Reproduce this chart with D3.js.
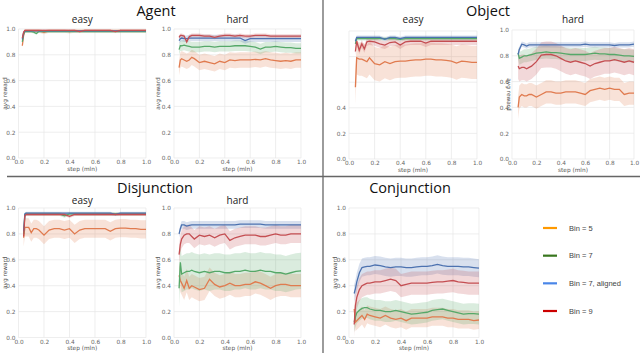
<!DOCTYPE html>
<html lang="en">
<head>
<meta charset="UTF-8">
<script src="https://cdnjs.cloudflare.com/ajax/libs/d3/7.8.5/d3.min.js"></script>
<style>
  body { margin: 0; background: #fff; }
  svg { display: block; }
</style>
</head>
<body>
<svg id="chart" width="640" height="353"></svg>
<script>
// shared x positions (step, mln) for every series
var steps = [0.03, 0.04, 0.05, 0.06, 0.08, 0.10, 0.12, 0.14, 0.16, 0.20, 0.24, 0.28, 0.32, 0.36, 0.40,
             0.44, 0.48, 0.52, 0.56, 0.60, 0.64, 0.68, 0.72, 0.76, 0.80, 0.84, 0.88, 0.92, 0.96, 1.00];

var seriesNames = ["Bin = 5", "Bin = 7", "Bin = 7, aligned", "Bin = 9"];
var lineColors = ["#e07b4f", "#55a868", "#4c72b0", "#c44e52"];
var legendColors = ["#ff9900", "#38761d", "#4a86e8", "#cc0000"];
var tickValues = [0, 0.2, 0.4, 0.6, 0.8, 1.0];

// each panel: [Bin5, Bin7, Bin7 aligned, Bin9]
var agentEasy = [
  [0.87, 0.95, 0.985, 0.985, 0.985, 0.985, 0.985, 0.985, 0.985, 0.975, 0.985, 0.985, 0.985, 0.985, 0.98, 0.985, 0.985, 0.985, 0.985, 0.985, 0.985, 0.985, 0.985, 0.985, 0.985, 0.985, 0.985, 0.985, 0.985, 0.985],
  [0.90, 0.96, 0.98, 0.98, 0.98, 0.98, 0.975, 0.965, 0.98, 0.98, 0.98, 0.98, 0.98, 0.98, 0.98, 0.98, 0.98, 0.98, 0.98, 0.98, 0.98, 0.98, 0.98, 0.98, 0.98, 0.98, 0.98, 0.98, 0.98, 0.98],
  [0.92, 0.97, 0.985, 0.985, 0.985, 0.985, 0.985, 0.985, 0.985, 0.985, 0.985, 0.985, 0.985, 0.985, 0.985, 0.985, 0.985, 0.985, 0.985, 0.985, 0.985, 0.985, 0.985, 0.985, 0.985, 0.985, 0.985, 0.985, 0.985, 0.985],
  [0.93, 0.975, 0.99, 0.99, 0.99, 0.99, 0.99, 0.99, 0.99, 0.99, 0.99, 0.99, 0.99, 0.99, 0.99, 0.99, 0.98, 0.99, 0.99, 0.99, 0.99, 0.99, 0.99, 0.98, 0.99, 0.99, 0.99, 0.99, 0.99, 0.99]
];
var agentEasySpread = [0.015, 0.01, 0.008, 0.008];

var agentHard = [
  [null, 0.70, 0.76, 0.77, 0.76, 0.75, 0.76, 0.78, 0.77, 0.74, 0.75, 0.74, 0.73, 0.75, 0.74, 0.76, 0.755, 0.76, 0.76, 0.76, 0.765, 0.76, 0.77, 0.76, 0.755, 0.75, 0.755, 0.75, 0.76, 0.76],
  [null, 0.84, 0.87, 0.87, 0.875, 0.87, 0.865, 0.86, 0.86, 0.86, 0.865, 0.865, 0.86, 0.865, 0.865, 0.865, 0.87, 0.87, 0.87, 0.865, 0.86, 0.845, 0.86, 0.86, 0.865, 0.86, 0.855, 0.855, 0.85, 0.85],
  [null, 0.91, 0.925, 0.93, 0.925, 0.925, 0.93, 0.93, 0.93, 0.93, 0.93, 0.93, 0.93, 0.93, 0.93, 0.93, 0.93, 0.93, 0.91, 0.925, 0.925, 0.925, 0.925, 0.925, 0.925, 0.925, 0.925, 0.925, 0.925, 0.925],
  [null, 0.935, 0.95, 0.95, 0.945, 0.90, 0.94, 0.95, 0.95, 0.95, 0.945, 0.945, 0.935, 0.945, 0.95, 0.95, 0.945, 0.95, 0.945, 0.945, 0.95, 0.95, 0.95, 0.945, 0.945, 0.945, 0.945, 0.945, 0.945, 0.945]
];
var agentHardSpread = [0.06, 0.04, 0.025, 0.015];

var objectEasy = [
  [null, null, 0.56, 0.79, 0.78, 0.78, 0.77, 0.76, 0.79, 0.745, 0.735, 0.76, 0.745, 0.76, 0.765, 0.765, 0.77, 0.775, 0.775, 0.78, 0.78, 0.775, 0.775, 0.77, 0.765, 0.75, 0.765, 0.76, 0.755, 0.755],
  [null, null, 0.90, 0.94, 0.94, 0.94, 0.94, 0.94, 0.94, 0.94, 0.94, 0.94, 0.94, 0.94, 0.935, 0.94, 0.94, 0.94, 0.94, 0.94, 0.94, 0.94, 0.94, 0.94, 0.94, 0.94, 0.94, 0.94, 0.94, 0.94],
  [null, null, 0.92, 0.95, 0.95, 0.95, 0.95, 0.95, 0.95, 0.95, 0.95, 0.935, 0.95, 0.95, 0.94, 0.95, 0.95, 0.95, 0.95, 0.95, 0.95, 0.95, 0.95, 0.95, 0.95, 0.95, 0.95, 0.95, 0.95, 0.95],
  [null, null, 0.84, 0.92, 0.85, 0.90, 0.86, 0.915, 0.92, 0.915, 0.90, 0.89, 0.91, 0.915, 0.89, 0.915, 0.92, 0.92, 0.92, 0.905, 0.92, 0.92, 0.92, 0.92, 0.92, 0.92, 0.92, 0.92, 0.92, 0.92]
];
var objectEasySpread = [0.13, 0.015, 0.015, 0.03];

var objectHard = [
  [null, null, 0.40, 0.48, 0.50, 0.49, 0.49, 0.50, 0.50, 0.48, 0.50, 0.52, 0.52, 0.51, 0.51, 0.52, 0.52, 0.52, 0.51, 0.50, 0.53, 0.54, 0.55, 0.54, 0.55, 0.54, 0.54, 0.50, 0.51, 0.51],
  [null, null, 0.82, 0.78, 0.79, 0.80, 0.80, 0.805, 0.81, 0.82, 0.825, 0.83, 0.825, 0.825, 0.82, 0.815, 0.81, 0.81, 0.81, 0.81, 0.815, 0.82, 0.815, 0.815, 0.81, 0.81, 0.805, 0.80, 0.80, 0.795],
  [null, null, 0.81, 0.85, 0.89, 0.885, 0.875, 0.885, 0.885, 0.885, 0.885, 0.885, 0.885, 0.885, 0.885, 0.885, 0.885, 0.885, 0.885, 0.89, 0.885, 0.885, 0.885, 0.885, 0.885, 0.88, 0.885, 0.885, 0.885, 0.89],
  [null, null, 0.72, 0.70, 0.71, 0.71, 0.70, 0.71, 0.72, 0.755, 0.805, 0.81, 0.81, 0.80, 0.78, 0.76, 0.75, 0.76, 0.75, 0.74, 0.72, 0.74, 0.75, 0.76, 0.76, 0.77, 0.76, 0.75, 0.76, 0.75]
];
var objectHardSpread = [0.09, 0.05, 0.02, 0.1];

var disjunctionEasy = [
  [null, 0.77, 0.85, 0.85, 0.85, 0.81, 0.84, 0.84, 0.83, 0.79, 0.83, 0.84, 0.84, 0.83, 0.84, 0.80, 0.83, 0.84, 0.84, 0.84, 0.84, 0.84, 0.82, 0.84, 0.845, 0.845, 0.84, 0.84, 0.835, 0.835],
  [null, 0.80, 0.95, 0.955, 0.955, 0.955, 0.955, 0.955, 0.955, 0.955, 0.955, 0.955, 0.955, 0.94, 0.955, 0.955, 0.955, 0.955, 0.955, 0.955, 0.955, 0.955, 0.955, 0.955, 0.955, 0.955, 0.955, 0.955, 0.955, 0.955],
  [null, 0.82, 0.955, 0.96, 0.96, 0.96, 0.96, 0.96, 0.96, 0.96, 0.96, 0.96, 0.96, 0.96, 0.96, 0.96, 0.96, 0.96, 0.96, 0.96, 0.96, 0.96, 0.96, 0.95, 0.96, 0.96, 0.96, 0.96, 0.96, 0.96],
  [null, 0.78, 0.94, 0.95, 0.95, 0.95, 0.95, 0.95, 0.95, 0.95, 0.95, 0.95, 0.95, 0.95, 0.935, 0.95, 0.95, 0.95, 0.95, 0.95, 0.95, 0.95, 0.95, 0.95, 0.95, 0.95, 0.95, 0.95, 0.95, 0.95]
];
var disjunctionEasySpread = [0.07, 0.015, 0.012, 0.012];

var disjunctionHard = [
  [null, 0.48, 0.44, 0.42, 0.38, 0.44, 0.38, 0.40, 0.39, 0.37, 0.38, 0.45, 0.41, 0.39, 0.40, 0.42, 0.40, 0.40, 0.41, 0.41, 0.43, 0.42, 0.40, 0.38, 0.40, 0.41, 0.41, 0.40, 0.40, 0.40],
  [null, 0.38, 0.58, 0.49, 0.50, 0.51, 0.51, 0.52, 0.51, 0.50, 0.51, 0.50, 0.51, 0.51, 0.50, 0.50, 0.51, 0.51, 0.52, 0.51, 0.51, 0.52, 0.51, 0.51, 0.50, 0.50, 0.49, 0.50, 0.51, 0.515],
  [null, 0.80, 0.84, 0.87, 0.87, 0.86, 0.865, 0.87, 0.87, 0.87, 0.87, 0.87, 0.87, 0.87, 0.87, 0.87, 0.87, 0.875, 0.875, 0.875, 0.875, 0.875, 0.87, 0.87, 0.87, 0.87, 0.87, 0.87, 0.87, 0.87],
  [null, 0.64, 0.72, 0.76, 0.79, 0.80, 0.80, 0.78, 0.76, 0.79, 0.78, 0.79, 0.77, 0.79, 0.80, 0.75, 0.77, 0.78, 0.79, 0.79, 0.79, 0.78, 0.78, 0.79, 0.80, 0.79, 0.79, 0.80, 0.80, 0.80]
];
var disjunctionHardSpread = [0.09, 0.14, 0.03, 0.07];

var conjunction = [
  [null, 0.22, 0.12, 0.13, 0.15, 0.17, 0.14, 0.18, 0.17, 0.16, 0.15, 0.17, 0.15, 0.14, 0.15, 0.13, 0.15, 0.15, 0.15, 0.15, 0.16, 0.16, 0.16, 0.15, 0.15, 0.14, 0.14, 0.14, 0.13, 0.135],
  [null, 0.12, 0.16, 0.19, 0.21, 0.225, 0.23, 0.23, 0.22, 0.21, 0.21, 0.20, 0.20, 0.21, 0.20, 0.19, 0.18, 0.185, 0.19, 0.195, 0.21, 0.215, 0.22, 0.21, 0.20, 0.19, 0.18, 0.185, 0.185, 0.18],
  [null, 0.34, 0.38, 0.43, 0.50, 0.54, 0.545, 0.55, 0.55, 0.56, 0.555, 0.545, 0.54, 0.545, 0.545, 0.54, 0.54, 0.545, 0.55, 0.55, 0.555, 0.565, 0.555, 0.55, 0.55, 0.55, 0.545, 0.545, 0.54, 0.535],
  [null, 0.10, 0.25, 0.31, 0.37, 0.40, 0.41, 0.42, 0.42, 0.43, 0.43, 0.44, 0.45, 0.44, 0.40, 0.41, 0.42, 0.42, 0.42, 0.42, 0.425, 0.43, 0.43, 0.435, 0.44, 0.43, 0.425, 0.42, 0.42, 0.42]
];
var conjunctionSpread = [0.07, 0.08, 0.07, 0.09];

var svg = d3.select("#chart");
var fmt = d3.format(".1f");

function drawPanel(p) {
  var x = d3.scaleLinear().domain([0, 1]).range([p.x0, p.x1]);
  var y = d3.scaleLinear().domain([0, 1]).range([p.y1, p.y0]);
  var g = svg.append("g");

  // grid
  g.selectAll(".vg").data(tickValues).enter().append("line")
    .attr("x1", function (d) { return x(d); }).attr("x2", function (d) { return x(d); })
    .attr("y1", p.y0).attr("y2", p.y1)
    .attr("stroke", "#e6e6e6").attr("stroke-width", 0.7);
  g.selectAll(".hg").data(tickValues).enter().append("line")
    .attr("y1", function (d) { return y(d); }).attr("y2", function (d) { return y(d); })
    .attr("x1", p.x0).attr("x2", p.x1)
    .attr("stroke", "#e6e6e6").attr("stroke-width", 0.7);

  // axes
  var ax = g.append("g").attr("transform", "translate(0," + p.y1 + ")")
    .call(d3.axisBottom(x).tickValues(tickValues).tickFormat(fmt).tickSize(0).tickPadding(2));
  var ay = g.append("g").attr("transform", "translate(" + p.x0 + ",0)")
    .call(d3.axisLeft(y).tickValues(p.yTicks || tickValues).tickFormat(fmt).tickSize(0).tickPadding(3));
  [ax, ay].forEach(function (a) {
    a.select(".domain").remove();
    a.attr("font-size", 5.8).attr("font-family", "DejaVu Sans, sans-serif");
    a.selectAll("text").attr("fill", "#666");
  });

  g.append("text").attr("x", (p.x0 + p.x1) / 2).attr("y", p.y1 + 12.5)
    .attr("text-anchor", "middle").attr("font-size", 5.8)
    .attr("font-family", "DejaVu Sans, sans-serif").attr("fill", "#555").text("step (mln)");

  if (p.ylabel) {
    var cy = (p.y0 + p.y1) / 2;
    g.append("text").attr("transform", "translate(" + p.ylabel.x + "," + cy + ") rotate(" + p.ylabel.rot + ")")
      .attr("text-anchor", "middle").attr("font-size", 5.8)
      .attr("font-family", "DejaVu Sans, sans-serif").attr("fill", "#555").text("avg reward");
  }

  if (p.sub) {
    g.append("text").attr("x", (p.x0 + p.x1) / 2).attr("y", p.subY)
      .attr("text-anchor", "middle").attr("font-size", 10)
      .attr("font-family", "Open Sans, sans-serif").attr("fill", "#222").text(p.sub);
  }

  var series = p.data.map(function (vals, i) {
    return steps.map(function (s, j) { return { x: s, v: vals[j], sp: p.spread[i] }; });
  });

  var area = d3.area()
    .defined(function (d) { return d.v != null; })
    .x(function (d) { return x(d.x); })
    .y0(function (d) { return y(Math.max(0, d.v - d.sp)); })
    .y1(function (d) { return y(Math.min(1, d.v + d.sp)); });
  var line = d3.line()
    .defined(function (d) { return d.v != null; })
    .x(function (d) { return x(d.x); })
    .y(function (d) { return y(d.v); });

  g.selectAll(".band").data(series).enter().append("path")
    .attr("d", area)
    .attr("fill", function (d, i) { return lineColors[i]; })
    .attr("fill-opacity", 0.22);
  g.selectAll(".ln").data(series).enter().append("path")
    .attr("d", line)
    .attr("fill", "none")
    .attr("stroke", function (d, i) { return lineColors[i]; })
    .attr("stroke-width", 1.3);
}

var panels = [
  { data: agentEasy, spread: agentEasySpread, x0: 18.5, x1: 146, y0: 29, y1: 158, sub: "easy", subY: 23, ylabel: { x: 7, rot: -90 } },
  { data: agentHard, spread: agentHardSpread, x0: 174, x1: 301, y0: 29, y1: 158, sub: "hard", subY: 23, ylabel: { x: 160, rot: -90 } },
  { data: objectEasy, spread: objectEasySpread, x0: 349, x1: 477, y0: 31, y1: 159, sub: "easy", subY: 23, yTicks: [0, 0.2, 0.4] },
  { data: objectHard, spread: objectHardSpread, x0: 512, x1: 634, y0: 30, y1: 159, sub: "hard", subY: 23, ylabel: { x: 507, rot: 90 } },
  { data: disjunctionEasy, spread: disjunctionEasySpread, x0: 18.5, x1: 146, y0: 208, y1: 337.5, sub: "easy", subY: 204, ylabel: { x: 7, rot: -90 } },
  { data: disjunctionHard, spread: disjunctionHardSpread, x0: 174, x1: 301, y0: 208, y1: 337.5, sub: "hard", subY: 204, ylabel: { x: 160, rot: -90 } },
  { data: conjunction, spread: conjunctionSpread, x0: 349, x1: 479, y0: 208, y1: 337.5, ylabel: { x: 337, rot: -90 } }
];
panels.forEach(drawPanel);

// section titles
var titles = [
  { t: "Agent", x: 156, y: 15.5 },
  { t: "Object", x: 488, y: 15.5 },
  { t: "Disjunction", x: 155, y: 193 },
  { t: "Conjunction", x: 410, y: 193 }
];
svg.selectAll(".title").data(titles).enter().append("text")
  .attr("x", function (d) { return d.x; }).attr("y", function (d) { return d.y; })
  .attr("text-anchor", "middle").attr("font-size", 14.5)
  .attr("font-family", "Open Sans, sans-serif").attr("fill", "#111")
  .text(function (d) { return d.t; });

// separators
svg.append("line").attr("x1", 323).attr("x2", 323).attr("y1", 0).attr("y2", 353)
  .attr("stroke", "#666").attr("stroke-width", 1.3);
svg.append("line").attr("x1", 7).attr("x2", 640).attr("y1", 176.5).attr("y2", 176.5)
  .attr("stroke", "#666").attr("stroke-width", 1.3);

// legend
var legendY = d3.scalePoint().domain(seriesNames).range([228, 311]);
var lg = svg.selectAll(".lg").data(seriesNames).enter().append("g")
  .attr("transform", function (d) { return "translate(0," + legendY(d) + ")"; });
lg.append("line").attr("x1", 543).attr("x2", 557).attr("y1", 0).attr("y2", 0)
  .attr("stroke", function (d, i) { return legendColors[i]; }).attr("stroke-width", 2.2);
lg.append("text").attr("x", 569).attr("y", 2.6)
  .attr("font-size", 7.5).attr("font-family", "Liberation Sans, Arial, sans-serif")
  .attr("fill", "#444").text(function (d) { return d; });
</script>
</body>
</html>
